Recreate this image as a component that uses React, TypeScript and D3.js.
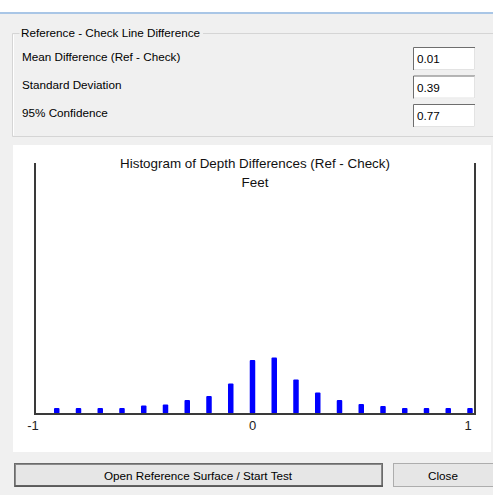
import { useRef, useEffect } from "react";
import * as d3 from "d3";

// histogram bins (bin centres, feet) and relative frequency (%)
const binCentres = [-0.9, -0.8, -0.7, -0.6, -0.5, -0.4, -0.3, -0.2, -0.1, 0, 0.1, 0.2, 0.3, 0.4, 0.5, 0.6, 0.7, 0.8, 0.9, 1.0];
const frequency = [2.4, 2.4, 2.4, 2.4, 3.4, 3.8, 5.6, 7.2, 12.2, 21.5, 22.5, 13.7, 8.6, 5.6, 4.0, 3.2, 2.4, 2.4, 2.4, 2.4];
const xTicks = [-1, 0, 1];

const statLabels = ["Mean Difference (Ref - Check)", "Standard Deviation", "95% Confidence"];
const statValues = ["0.01", "0.39", "0.77"];

const W = 493;
const H = 495;
const uiFont = "'Liberation Sans', Arial, sans-serif";

export default function App() {
  const chart = useRef<SVGGElement>(null);

  useEffect(() => {
    const g = d3.select(chart.current);
    g.selectAll("*").remove();

    const x = d3.scaleLinear([-1, 1.023], [35, 475]);
    const y = d3.scaleLinear([0, 100], [414, 163]);

    g.selectAll("rect.bar")
      .data(binCentres)
      .enter()
      .append("rect")
      .attr("class", "bar")
      .attr("fill", "#0000ff")
      .attr("x", d => x(d) - 2.75)
      .attr("y", (d, i) => y(frequency[i]))
      .attr("width", 5.5)
      .attr("height", (d, i) => y(0) - y(frequency[i]) - 0.5)
      .attr("rx", 1);

    // left, right and bottom frame lines
    const frame = d3.line<[number, number]>();
    g.append("path")
      .attr("d", frame([[x(-1), y(100)], [x(-1), y(0)], [x(1.023), y(0)], [x(1.023), y(100)]]))
      .attr("fill", "none")
      .attr("stroke", "#3a3a3a")
      .attr("stroke-width", 2);

    g.selectAll("text.tick")
      .data(xTicks)
      .enter()
      .append("text")
      .attr("class", "tick")
      .attr("x", d => x(d) - Math.abs(d) * 2)
      .attr("y", 430)
      .attr("text-anchor", "middle")
      .attr("font-family", "'Liberation Sans', Arial, sans-serif")
      .attr("font-size", 13)
      .attr("fill", "#222")
      .text(d => String(d));

    g.append("text")
      .attr("x", 255)
      .attr("y", 167.5)
      .attr("text-anchor", "middle")
      .attr("font-family", "'Liberation Sans', Arial, sans-serif")
      .attr("font-size", 13.4)
      .attr("fill", "#111")
      .text("Histogram of Depth Differences (Ref - Check)");

    g.append("text")
      .attr("x", 255)
      .attr("y", 186.5)
      .attr("text-anchor", "middle")
      .attr("font-family", "'Liberation Sans', Arial, sans-serif")
      .attr("font-size", 13.4)
      .attr("fill", "#111")
      .text("Feet");
  }, []);

  return (
    <div style={{ position: "absolute", left: 0, top: 0 }}>
      <svg width={W} height={H} style={{ display: "block" }}>
        <rect x={0} y={0} width={W} height={H} fill="#f0f0f0" />
        <rect x={0} y={0} width={W} height={12} fill="#ffffff" />
        <rect x={0} y={12} width={W} height={2} fill="#a9c6e6" />

        {/* group box */}
        <path d="M 19.5 33.5 H 12.5 V 136.5 H 493" fill="none" stroke="#d5d5d5" />
        <path d="M 13.5 34.5 V 135.5" fill="none" stroke="#ffffff" />
        <path d="M 203 33.5 H 493" fill="none" stroke="#d5d5d5" />
        <text x={21} y={37} fontFamily={uiFont} fontSize={11.7} fill="#000">Reference - Check Line Difference</text>
        {statLabels.map((s, i) => (
          <g key={s}>
            <text x={22} y={61 + i * 28} fontFamily={uiFont} fontSize={11.7} fill="#000">{s}</text>
            <rect x={413} y={47 + i * 28.5} width={62} height={23} fill="#ffffff" />
            <path d={`M 413.5 ${70 + i * 28.5} V ${47.5 + i * 28.5} H 475`} fill="none" stroke="#6e6e6e" />
            <path d={`M 474.5 ${48 + i * 28.5} V ${69.5 + i * 28.5} H 414`} fill="none" stroke="#e3e3e3" />
            <text x={417} y={63 + i * 28.5} fontFamily={uiFont} fontSize={11.7} fill="#000">{statValues[i]}</text>
          </g>
        ))}

        {/* chart panel */}
        <rect x={13} y={145} width={478} height={307} fill="#ffffff" />
        <g ref={chart} />

        {/* buttons */}
        <rect x={14.5} y={463.5} width={368} height={23} fill="#e6e6e6" stroke="#6b6b6b" />
        <rect x={15.5} y={464.5} width={366} height={21} fill="none" stroke="#8a8a8a" />
        <path d="M 15 486 H 383" stroke="#555" strokeWidth={1.5} />
        <text x={198} y={480} textAnchor="middle" fontFamily={uiFont} fontSize={11.7} fill="#000">Open Reference Surface / Start Test</text>
        <rect x={393.5} y={463.5} width={110} height={23} fill="#e6e6e6" stroke="#adadad" />
        <text x={443} y={480} textAnchor="middle" fontFamily={uiFont} fontSize={11.7} fill="#000">Close</text>
      </svg>
    </div>
  );
}
